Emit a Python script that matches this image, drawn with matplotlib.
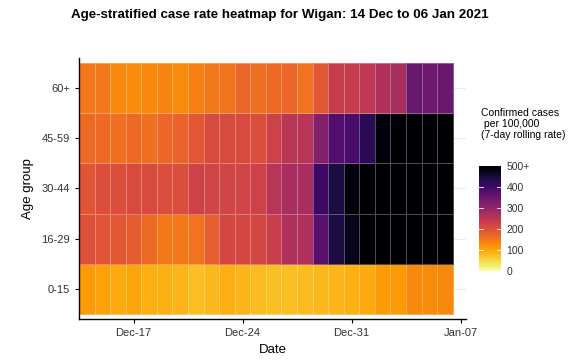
import numpy as np
import pandas as pd
import matplotlib
matplotlib.use("Agg")
import matplotlib.pyplot as plt
import matplotlib.dates as mdates

plt.rcParams["font.family"] = ["Liberation Sans", "DejaVu Sans"]

# 7-day rolling case rate per 100,000 (values > 500 are clipped)
dates = pd.date_range("2020-12-14", "2021-01-06", freq="D")
age_groups = ["0-15", "16-29", "30-44", "45-59", "60+"]

rate_0_15 = [110, 105, 95, 100, 90, 88, 85, 75, 82, 90, 85, 78,
             75, 75, 78, 82, 85, 88, 95, 110, 112, 130, 128, 130]
rate_16_29 = [200, 195, 190, 185, 165, 150, 150, 155, 180, 215, 215, 215,
              230, 265, 265, 370, 440, 475, 540, 580, 600, 620, 610, 600]
rate_30_44 = [195, 205, 205, 210, 210, 205, 205, 225, 220, 220, 220, 225,
              255, 275, 275, 405, 445, 490, 540, 580, 600, 620, 610, 600]
rate_45_59 = [165, 165, 160, 165, 160, 170, 175, 190, 210, 210, 210, 205,
              225, 250, 255, 320, 380, 390, 425, 490, 530, 560, 570, 560]
rate_60 = [150, 150, 130, 125, 130, 135, 128, 140, 150, 155, 170, 160,
           165, 170, 155, 190, 235, 235, 245, 265, 275, 350, 345, 350]

rates = np.array([rate_0_15, rate_16_29, rate_30_44, rate_45_59, rate_60])

fig = plt.figure(figsize=(5.85, 3.61), dpi=100)
ax = fig.add_axes([79 / 585, 42 / 361, 387 / 585, 261 / 361])

d0 = mdates.date2num(dates[0])
x_edges = mdates.date2num(dates) - 0.5
x_edges = np.append(x_edges, x_edges[-1] + 1)
y_edges = np.arange(len(age_groups) + 1) - 0.5

# light grid behind tiles
for y in range(len(age_groups)):
    ax.axhline(y, color="#ebebeb", lw=0.8, zorder=0)

mesh = ax.pcolormesh(x_edges, y_edges, np.clip(rates, 0, 500), cmap="inferno_r",
                     vmin=0, vmax=500, edgecolors=(1, 1, 1, 0.3), linewidth=0.6,
                     zorder=1)

ax.set_xlim(d0 - 0.5, d0 - 0.5 + 24.85)
ax.set_ylim(-0.6, 4.6)
ax.set_yticks(range(len(age_groups)))
ax.set_yticklabels(age_groups)

ticks = pd.to_datetime(["2020-12-17", "2020-12-24", "2020-12-31", "2021-01-07"])
ax.set_xticks(mdates.date2num(ticks))
ax.xaxis.set_major_formatter(mdates.DateFormatter("%b-%d"))

ax.tick_params(labelsize=8, colors="#333333", length=3, width=0.8)
ax.tick_params(axis="both", color="black")
for side in ["top", "right"]:
    ax.spines[side].set_visible(False)
for side in ["left", "bottom"]:
    ax.spines[side].set_linewidth(1.0)

ax.set_xlabel("Date", fontsize=9.5, labelpad=4)
ax.set_ylabel("Age group", fontsize=9.5, labelpad=5)

fig.text(0.478, 0.958, "Age-stratified case rate heatmap for Wigan: 14 Dec to 06 Jan 2021",
         ha="center", va="center", fontsize=9.6, fontweight="bold")

# colour bar legend
cax = fig.add_axes([479 / 585, 90 / 361, 22 / 585, 105 / 361])
cb = fig.colorbar(mesh, cax=cax)
cb.outline.set_visible(False)
cb.set_ticks([0, 100, 200, 300, 400, 500])
cb.set_ticklabels(["0", "100", "200", "300", "400", "500+"])
cax.tick_params(labelsize=7.5, colors="#333333", length=0, pad=4)
for v in [100, 200, 300, 400]:
    cax.plot([0, 0.2], [v, v], color="white", lw=0.6, transform=cax.get_yaxis_transform())
    cax.plot([0.8, 1], [v, v], color="white", lw=0.6, transform=cax.get_yaxis_transform())

fig.text(481 / 585, 1 - 108 / 361, "Confirmed cases\n per 100,000\n(7-day rolling rate)",
         ha="left", va="top", fontsize=7.5, linespacing=1.15)

fig.savefig("out.png", dpi=100)
